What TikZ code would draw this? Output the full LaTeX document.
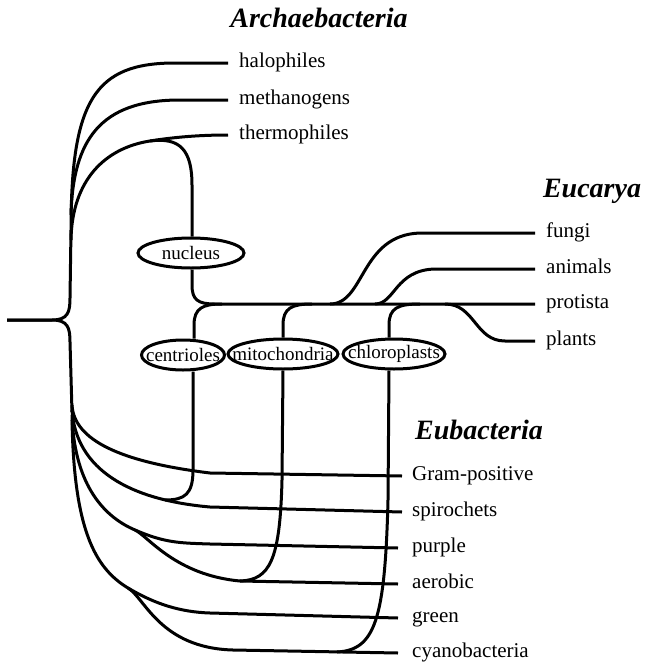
\documentclass[tikz,border=0pt]{standalone}
\usepackage{fontspec}
\setmainfont{Liberation Serif}
\usetikzlibrary{shapes.geometric}
\begin{document}
\begin{tikzpicture}[x=1pt,y=-1pt,
  br/.style={line width=3pt, line join=round},
  leaf/.style={anchor=west, inner xsep=11pt, inner ysep=0pt, font=\fontsize{21}{24}\selectfont, text height=14pt, text depth=4.5pt},
  grouptitle/.style={font=\fontsize{28}{32}\selectfont\bfseries\itshape, inner sep=0pt},
  organ/.style={ellipse, draw, line width=3pt, inner xsep=-30pt, inner ysep=-15pt, minimum height=30pt, font=\fontsize{19}{20}\selectfont}]
\useasboundingbox (0,0) rectangle (649,664);

% titles
\node[grouptitle] (tarch) at (319,18) {Archaebacteria};
\node[grouptitle] (teuc) at (592,191) {Eucarya};
\node[grouptitle] (teub) at (479,430) {Eubacteria};

% leaf labels
\node[leaf] (hal) at (228,63) {halophiles};
\node[leaf] (met) at (228,100) {methanogens};
\node[leaf] (the) at (228,135) {thermophiles};
\node[leaf] (fun) at (535,233) {fungi};
\node[leaf] (ani) at (535,269) {animals};
\node[leaf] (pro) at (535,304) {protista};
\node[leaf] (pla) at (535,341) {plants};
\node[leaf,inner xsep=10pt] (gra) at (402,476) {Gram-positive};
\node[leaf,inner xsep=10pt] (spi) at (402,512) {spirochets};
\node[leaf,inner xsep=14pt] (pur) at (398,548) {purple};
\node[leaf,inner xsep=14pt] (aer) at (398,584) {aerobic};
\node[leaf,inner xsep=14pt] (gre) at (398,618) {green};
\node[leaf,inner xsep=14pt] (cya) at (398,653) {cyanobacteria};

% organelles
\node[organ, minimum width=106pt] (nuc) at (191,253) {nucleus};
\node[organ, minimum width=83pt] (cen) at (183,355) {centrioles};
\node[organ, minimum width=110pt] (mit) at (283,354) {mitochondria};
\node[organ, minimum width=102pt] (chl) at (394,354) {chloroplasts};

\coordinate (root) at (7,320);
\coordinate (tj) at (150,141);
\coordinate (pj) at (135,530);
\coordinate (gj) at (128,588);

% Archaebacteria
\draw[br] (root) -- (52,320) .. controls (68,320) and (70,312) .. (70,298) -- (71,230)
  .. controls (71,100) and (95,63) .. (175,63) -- (hal.west);
\draw[br] (71,215) .. controls (73,140) and (100,100) .. (180,100) -- (met.west);
\draw[br] (71,240) .. controls (72,180) and (105,148) .. (tj) .. controls (175,137) and (200,135) .. (the.west);

% nucleus branch
\draw[br] (tj) .. controls (180,137) and (192,150) .. (192,185) -- (nuc.north -| 192,0);
\draw[br] (nuc.south -| 192,0) -- (192,285) .. controls (192,300) and (198,304) .. (215,304) -- (pro.west);

% Eucarya
\draw[br] (330,304) .. controls (365,304) and (360,235) .. (420,233) -- (fun.west);
\draw[br] (375,304) .. controls (395,304) and (395,270) .. (435,269) -- (ani.west);
\draw[br] (445,304) .. controls (475,304) and (475,341) .. (505,341) -- (pla.west);

% organelle links upward
\draw[br] (cen.north -| 194,0) -- (194,325) .. controls (194,308) and (203,304) .. (222,304);
\draw[br] (mit.north) -- (283,325) .. controls (283,308) and (292,304) .. (312,304);
\draw[br] (chl.north -| 389,0) -- (389,325) .. controls (389,308) and (398,304) .. (420,304);

% Eubacteria
\draw[br] (root) -- (52,320) .. controls (68,320) and (70,328) .. (70,342) -- (72,412);
\draw[br] (72,405) .. controls (74,440) and (120,462) .. (210,473) -- (gra.west);
\draw[br] (72,410) .. controls (76,470) and (130,500) .. (210,507) -- (spi.west);
\draw[br] (72,415) .. controls (74,480) and (100,515) .. (pj) .. controls (165,543) and (180,543) .. (210,544) -- (pur.west);
\draw[br] (pj) .. controls (148,536) and (175,575) .. (240,581) -- (aer.west);
\draw[br] (72,420) .. controls (74,530) and (95,568) .. (gj) .. controls (155,604) and (180,612) .. (210,613) -- (gre.west);
\draw[br] (gj) .. controls (145,598) and (160,648) .. (233,650) -- (cya.west);

% organelle links downward
\draw[br] (cen.south -| 193,0) -- (193,470) .. controls (193,494) and (185,500) .. (165,500);
\draw[br] (mit.south) -- (282,480) .. controls (280,560) and (270,580) .. (240,581);
\draw[br] (chl.south -| 389,0) -- (388,500) .. controls (385,620) and (375,650) .. (337,652);
\end{tikzpicture}
\end{document}
